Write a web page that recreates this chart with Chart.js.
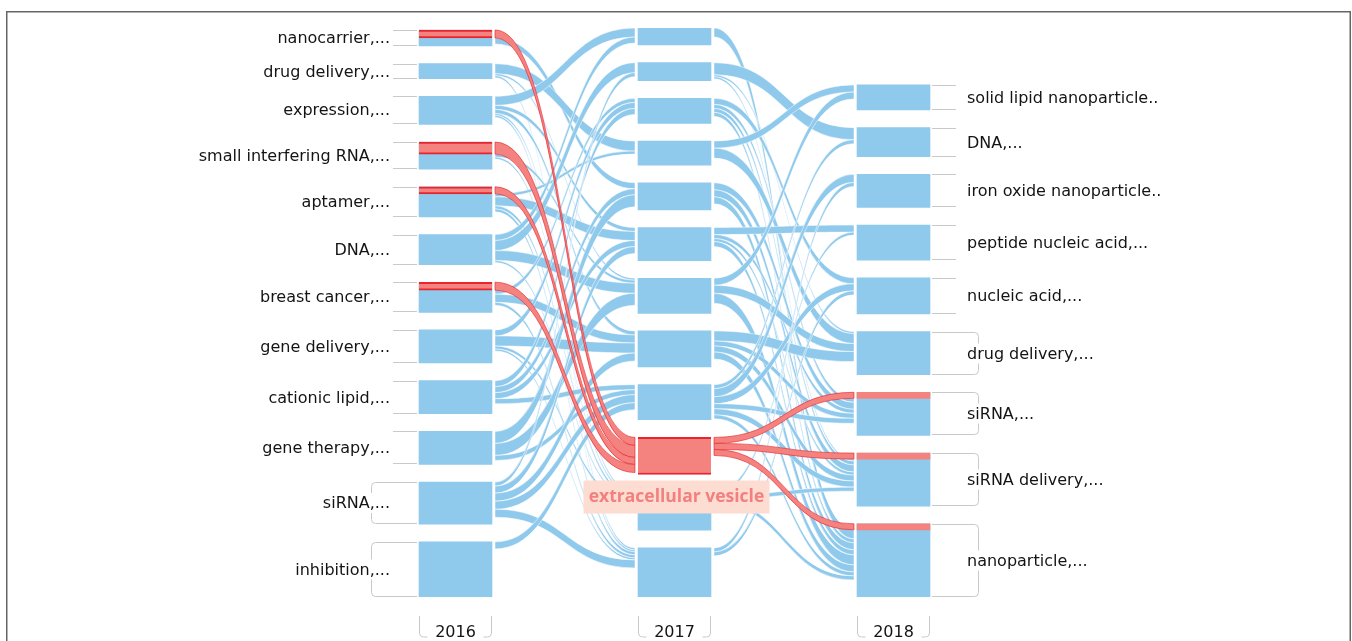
<!DOCTYPE html>
<html>
<head>
<meta charset="utf-8">
<script src="https://cdn.jsdelivr.net/npm/chart.js@4/dist/chart.umd.min.js"></script>
<style>
  html, body { margin: 0; padding: 0; background: #fff; }
</style>
</head>
<body>
<canvas id="myChart" width="1352" height="641"></canvas>
<script>
const years = ['2016', '2017', '2018'];
const labels2016 = ['nanocarrier,...', 'drug delivery,...', 'expression,...', 'small interfering RNA,...',
  'aptamer,...', 'DNA,...', 'breast cancer,...', 'gene delivery,...', 'cationic lipid,...',
  'gene therapy,...', 'siRNA,...', 'inhibition,...'];
const labels2018 = ['solid lipid nanoparticle..', 'DNA,...', 'iron oxide nanoparticle..',
  'peptide nucleic acid,...', 'nucleic acid,...', 'drug delivery,...', 'siRNA,...',
  'siRNA delivery,...', 'nanoparticle,...'];
const highlightLabel = 'extracellular vesicle';

// module sizes per year, top to bottom
const size2016 = [16, 15, 28, 27, 30, 30, 30, 33, 33, 33, 42, 55];
const size2017 = [17, 18, 25, 24, 27, 33, 35, 36, 35, 37, 38, 49];
const size2018 = [25, 29, 33, 35, 36, 43, 43, 53, 73];
const highlightNode = 9; // the 2017 module "extracellular vesicle"

// [2016 module, 2017 module, size]
const links1 = [
  [0, 9, 8], [3, 9, 12], [4, 9, 7], [6, 9, 8],
  [0, 4, 6],
  [1, 3, 10], [1, 6, 2], [1, 11, 2],
  [2, 0, 9], [2, 5, 4], [2, 7, 4], [2, 10, 2], [2, 11, 2],
  [3, 6, 3], [3, 10, 2],
  [4, 3, 3], [4, 5, 9], [4, 10, 3], [4, 11, 3],
  [5, 0, 6], [5, 1, 10], [5, 6, 10], [5, 10, 2],
  [6, 2, 4], [6, 7, 8], [6, 11, 3],
  [7, 2, 6], [7, 7, 10], [7, 10, 3], [7, 11, 2],
  [8, 2, 6], [8, 4, 6], [8, 5, 6], [8, 8, 5],
  [9, 4, 12], [9, 6, 12], [9, 8, 5],
  [10, 1, 4], [10, 5, 7], [10, 7, 8], [10, 8, 8], [10, 11, 8],
  [11, 8, 7]
];

// [2017 module, 2018 module, size]
const links2 = [
  [9, 6, 6], [9, 7, 6], [9, 8, 6],
  [0, 8, 9],
  [1, 1, 12], [1, 5, 2], [1, 7, 2],
  [2, 4, 6], [2, 6, 4], [2, 7, 4], [2, 8, 4],
  [3, 0, 7], [3, 5, 10],
  [4, 6, 7], [4, 7, 7], [4, 8, 7],
  [5, 3, 7], [5, 6, 4], [5, 7, 3], [5, 8, 5],
  [6, 0, 7], [6, 5, 8], [6, 8, 10],
  [7, 5, 10], [7, 6, 5], [7, 7, 6], [7, 8, 7],
  [8, 1, 4], [8, 2, 8], [8, 4, 7], [8, 6, 5], [8, 7, 6], [8, 8, 4],
  [10, 3, 3], [10, 7, 4], [10, 8, 4],
  [11, 2, 4], [11, 4, 4]
];

const BLUE = '#8fc9ec';
const RED = '#f48380';
const RED_LINE = '#e8252d';
const GAP = 17.6;
const BAR_W = 73;
const FONT = '16px "DejaVu Sans"';

// stack modules in each column, bottom aligned
const columns = [size2016, size2017, size2018];
const sum = a => a.reduce((s, v) => s + v, 0);
const span = Math.max(...columns.map(c => sum(c) + (c.length - 1) * GAP));
const nodePos = columns.map(col => {
  let y = span - (sum(col) + (col.length - 1) * GAP);
  return col.map(v => { const p = [y, y + v]; y += v + GAP; return p; });
});

// stacking of the flows at both ends
function layoutLinks(links, c) {
  const isRed = l => (c === 0 && l[1] === highlightNode) || (c === 1 && l[0] === highlightNode);
  const outOff = columns[c].map(() => 0);
  const inOff = columns[c + 1].map(() => 0);
  const res = new Map();
  links.slice().sort((a, b) => (isRed(b) - isRed(a)) || a[1] - b[1]).forEach(l => {
    res.set(l, { s0: nodePos[c][l[0]][0] + outOff[l[0]], v: l[2], red: isRed(l) });
    outOff[l[0]] += l[2];
  });
  links.slice().sort((a, b) => (isRed(b) - isRed(a)) || a[0] - b[0]).forEach(l => {
    res.get(l).t0 = nodePos[c + 1][l[1]][0] + inOff[l[1]];
    inOff[l[1]] += l[2];
  });
  return links.map(l => res.get(l));
}
const flows = [layoutLinks(links1, 0), layoutLinks(links2, 1)];

// red share drawn on top of the linked modules
const red2016 = size2016.map((_, i) => sum(links1.filter(l => l[0] === i && l[1] === highlightNode).map(l => l[2])));
const red2018 = size2018.map((_, i) => sum(links2.filter(l => l[1] === i && l[0] === highlightNode).map(l => l[2])));

const rows = Math.max(...columns.map(c => c.length));
const datasets = [];
for (let r = 0; r < rows; r++) {
  const isEV = ctx => ctx.dataIndex === 1 && r === highlightNode;
  datasets.push({
    data: nodePos.map(col => col[r] || null),
    backgroundColor: ctx => isEV(ctx) ? RED : BLUE,
    borderColor: RED_LINE,
    borderWidth: ctx => isEV(ctx) ? { top: 2, bottom: 2, left: 0, right: 0 } : 0,
    borderSkipped: false,
    order: 2
  });
  const hl = [
    red2016[r] ? [nodePos[0][r][0], nodePos[0][r][0] + red2016[r]] : null,
    null,
    red2018[r] ? [nodePos[2][r][0], nodePos[2][r][0] + red2018[r]] : null
  ];
  datasets.push({
    data: hl,
    backgroundColor: RED,
    borderColor: RED_LINE,
    borderWidth: ctx => ctx.dataIndex === 0 ? { top: 2, bottom: 2, left: 0, right: 0 } : 0,
    borderSkipped: false,
    order: 1
  });
}

function band(ctx, x0, x1, a0, a1, b0, b1) {
  const xm = (x0 + x1) / 2;
  ctx.beginPath();
  ctx.moveTo(x0, a0);
  ctx.bezierCurveTo(xm, a0, xm, b0, x1, b0);
  ctx.lineTo(x1, b1);
  ctx.bezierCurveTo(xm, b1, xm, a1, x0, a1);
  ctx.closePath();
}

const flowPlugin = {
  id: 'flows',
  beforeDatasetsDraw(chart) {
    const { ctx, scales: { x, y } } = chart;
    ctx.save();
    [false, true].forEach(drawRed => {
      flows.forEach((list, c) => {
        const x0 = x.getPixelForValue(c) + BAR_W / 2 + 3;
        const x1 = x.getPixelForValue(c + 1) - BAR_W / 2 - 3;
        list.filter(f => f.red === drawRed).forEach(f => {
          band(ctx, x0, x1,
            y.getPixelForValue(f.s0), y.getPixelForValue(f.s0 + f.v),
            y.getPixelForValue(f.t0), y.getPixelForValue(f.t0 + f.v));
          ctx.fillStyle = drawRed ? RED : BLUE;
          ctx.fill();
          ctx.lineWidth = drawRed ? 0.8 : 0.6;
          ctx.strokeStyle = drawRed ? 'rgba(232,37,45,0.8)' : 'rgba(255,255,255,0.85)';
          ctx.stroke();
        });
      });
    });
    ctx.restore();
  },
  afterDatasetsDraw(chart) {
    const { ctx, scales: { x, y }, chartArea } = chart;
    ctx.save();
    ctx.font = FONT;
    ctx.textBaseline = 'middle';
    ctx.lineWidth = 1;
    ctx.strokeStyle = '#c9c9c9';

    const drawSide = (c, labels, left) => {
      const cx = x.getPixelForValue(c);
      const edge = left ? Math.round(cx - BAR_W / 2) - 2 : Math.round(cx + BAR_W / 2) + 2;
      const dir = left ? -1 : 1;
      labels.forEach((txt, i) => {
        const p0 = Math.round(y.getPixelForValue(nodePos[c][i][0])) + 0.5;
        const p1 = Math.round(y.getPixelForValue(nodePos[c][i][1])) - 0.5;
        const cy = (p0 + p1) / 2;
        ctx.beginPath();
        if (columns[c][i] >= 40) {
          const vx = edge + dir * 46 + 0.5;
          ctx.moveTo(edge, p0);
          ctx.lineTo(vx - dir * 4, p0);
          ctx.quadraticCurveTo(vx, p0, vx, p0 + 4);
          ctx.lineTo(vx, p1 - 4);
          ctx.quadraticCurveTo(vx, p1, vx - dir * 4, p1);
          ctx.lineTo(edge, p1);
        } else {
          ctx.moveTo(edge, p0); ctx.lineTo(edge + dir * 24, p0);
          ctx.moveTo(edge, p1); ctx.lineTo(edge + dir * 24, p1);
        }
        ctx.stroke();
        const tx = edge + dir * (left ? 27 : 35);
        const w = ctx.measureText(txt).width;
        ctx.fillStyle = '#fff';
        ctx.fillRect(left ? tx - w - 3 : tx - 3, cy - 10, w + 6, 20);
        ctx.fillStyle = '#141414';
        ctx.textAlign = left ? 'right' : 'left';
        ctx.fillText(txt, tx, cy + 1);
      });
    };
    drawSide(0, labels2016, true);
    drawSide(2, labels2018, false);

    // year labels with brackets
    years.forEach((yr, c) => {
      const cx = x.getPixelForValue(c);
      const l = Math.round(cx - BAR_W / 2) + 0.5, r = Math.round(cx + BAR_W / 2) - 0.5;
      const top = chartArea.bottom + 19, bot = chartArea.bottom + 40;
      ctx.beginPath();
      ctx.moveTo(l, top); ctx.lineTo(l, bot - 4); ctx.quadraticCurveTo(l, bot, l + 4, bot); ctx.lineTo(l + 8, bot);
      ctx.moveTo(r, top); ctx.lineTo(r, bot - 4); ctx.quadraticCurveTo(r, bot, r - 4, bot); ctx.lineTo(r - 8, bot);
      ctx.stroke();
      ctx.fillStyle = '#141414';
      ctx.textAlign = 'center';
      ctx.fillText(yr, cx, chartArea.bottom + 36);
    });

    // highlighted module label
    const ex = x.getPixelForValue(1);
    const eb = y.getPixelForValue(nodePos[1][highlightNode][1]) + 6;
    ctx.fillStyle = '#fddcd1';
    ctx.fillRect(ex - 91, eb, 186, 33);
    ctx.font = 'bold 17.5px "Open Sans"';
    ctx.fillStyle = '#f3807f';
    ctx.textAlign = 'center';
    ctx.fillText(highlightLabel, ex + 2, eb + 17);

    // frame
    ctx.strokeStyle = '#666';
    ctx.lineWidth = 1.5;
    ctx.strokeRect(6.75, 11.75, 1343.5, 700);
    ctx.restore();
  }
};

new Chart(document.getElementById('myChart'), {
  type: 'bar',
  data: { labels: years, datasets },
  options: {
    responsive: false,
    animation: false,
    grouped: false,
    barThickness: BAR_W,
    layout: { padding: { left: 346, right: 349, top: 28, bottom: 44 } },
    scales: {
      x: { display: false },
      y: { display: false, reverse: true, min: 0, max: span }
    },
    plugins: { legend: { display: false }, tooltip: { enabled: false } }
  },
  plugins: [flowPlugin]
});
</script>
</body>
</html>
